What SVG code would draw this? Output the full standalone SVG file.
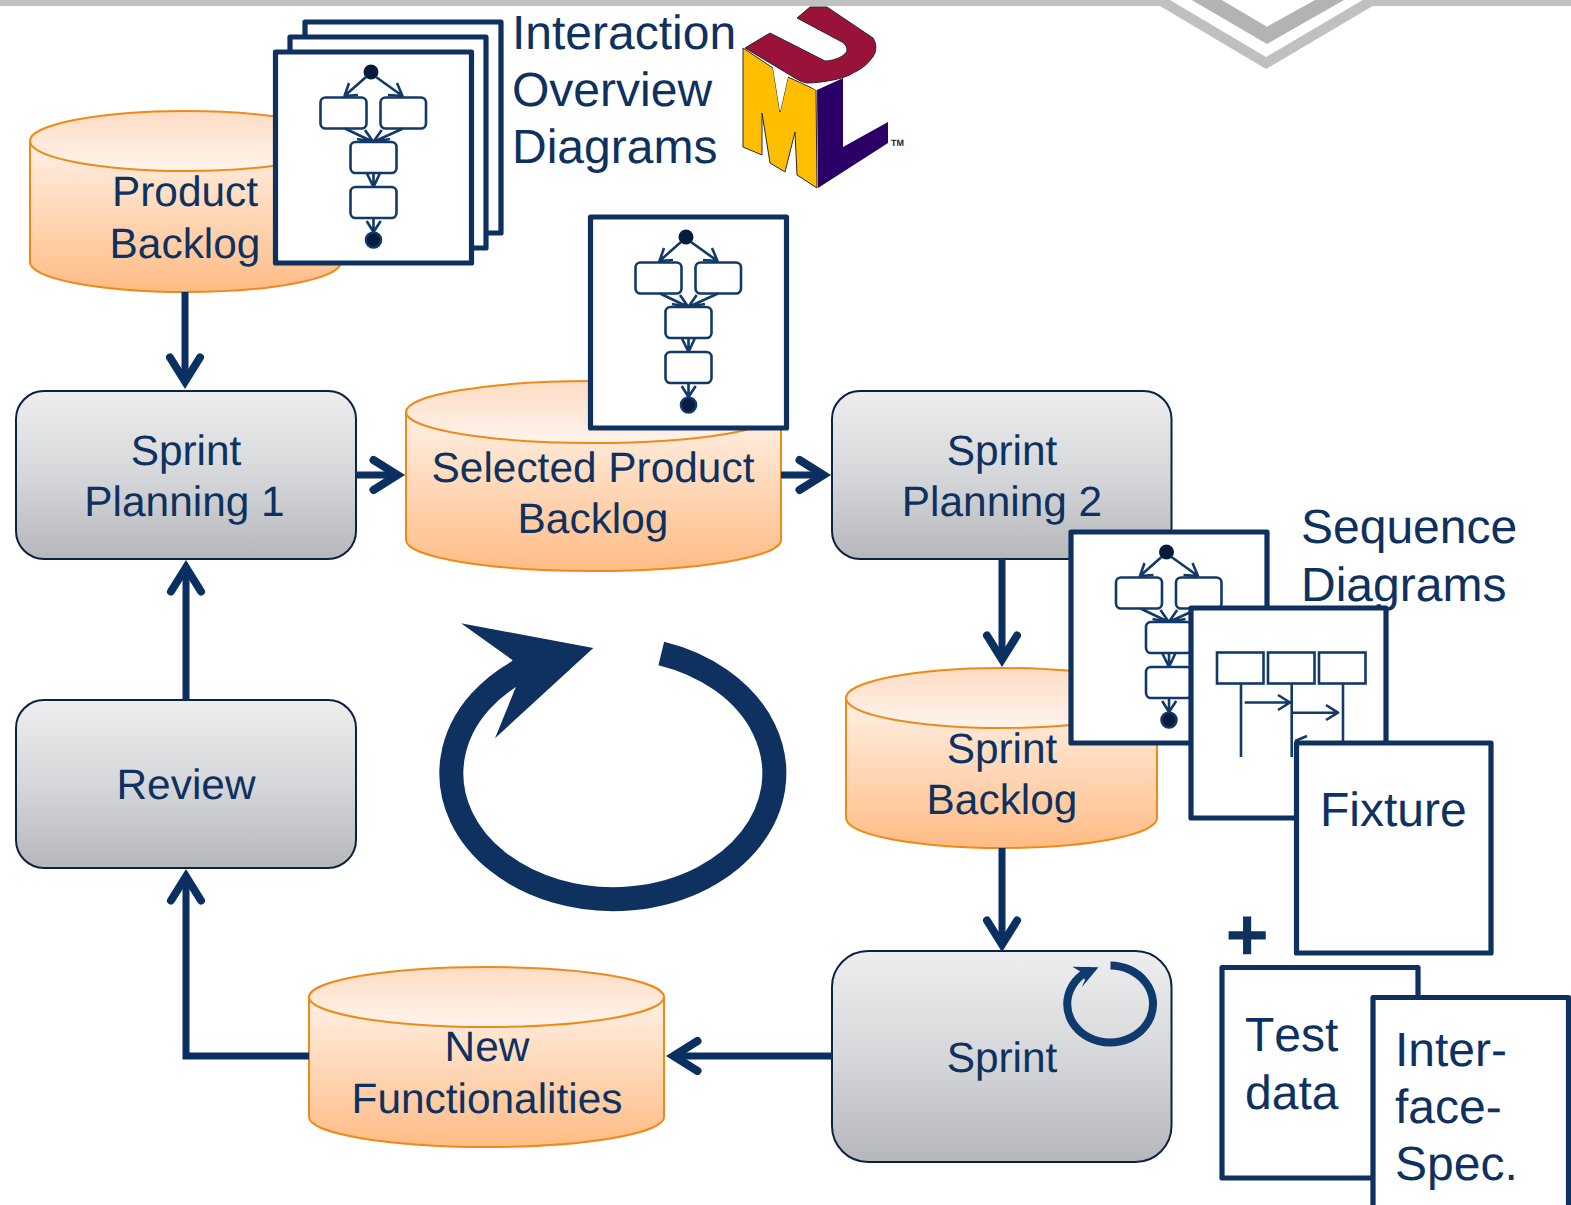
<svg xmlns="http://www.w3.org/2000/svg" width="1571" height="1205" viewBox="0 0 1571 1205">
<style>
text{font-family:"Liberation Sans",Arial,sans-serif;fill:#0e3160;text-rendering:geometricPrecision}
.t42{font-size:42.4px;text-anchor:middle}
.t47{font-size:48px}
.nokern{font-kerning:none}
.proc{stroke:#0b2342;stroke-width:2;fill:url(#gGray)}
.cyl{stroke:#ef8a17;stroke-width:2;fill:url(#gOrange)}
.cylTop{stroke:#ef8a17;stroke-width:2;fill:url(#gTop)}
.frame{fill:#fff;stroke:#0e3160;stroke-width:5.200;stroke-linejoin:round}
.conn{fill:none;stroke:#0a2f60;stroke-width:7;marker-end:url(#open)}
.thin{fill:none;stroke:#123a68;stroke-width:2.600;stroke-linejoin:round}
.box{fill:#fff;stroke:#123a68;stroke-width:2.600}
.navy{fill:#0e3160}
</style>
<defs>
<linearGradient id="gGray" x1="0" y1="0" x2="0" y2="1"><stop offset="0" stop-color="#eeeef0"/><stop offset=".5" stop-color="#d6d7da"/><stop offset="1" stop-color="#b6b7bb"/></linearGradient>
<linearGradient id="gOrange" x1="0" y1="0" x2="0" y2="1"><stop offset="0" stop-color="#fff1e6"/><stop offset="1" stop-color="#ffbc85"/></linearGradient>
<linearGradient id="gTop" x1="0" y1="0" x2="0" y2="1"><stop offset="0" stop-color="#fedcc4"/><stop offset="1" stop-color="#fff4ec"/></linearGradient>
<marker id="open" markerUnits="userSpaceOnUse" markerWidth="44" markerHeight="48" viewBox="-32 -24 44 48" refX="0" refY="0" orient="auto"><path d="M-24,-15 L0,0 L-24,15" fill="none" stroke="#0a2f60" stroke-width="8" stroke-linejoin="miter" stroke-miterlimit="10" stroke-linecap="round"/></marker>
<g id="activity">
<circle cx="371" cy="72" r="7.500" fill="#071c3c"/>
<path class="thin" d="M366,77 L344.500,96 M349,83 L344.500,96 L358,95 M376,77 L402.500,96 M397,83 L402.500,96 L388,95"/>
<rect class="box" x="320.500" y="97.500" width="46" height="31" rx="5"/>
<rect class="box" x="380.500" y="97.500" width="45.500" height="31" rx="5"/>
<path class="thin" d="M345,128.500 L373.300,142 M403,128.500 L373.300,142 M365,130 L373.300,142 L357,139 M381.700,130 L373.300,142 L390,139"/>
<rect class="box" x="350.500" y="142" width="46" height="31" rx="5"/>
<path class="thin" d="M373.500,173 L373.500,187 M366.700,173 L373.500,187 L380,173"/>
<rect class="box" x="350.500" y="187" width="46" height="31" rx="5"/>
<path class="thin" d="M373.500,218 L373.500,232 M366.700,221 L373.500,232 L380.700,221"/>
<circle cx="373.500" cy="240" r="7.600" fill="#071c3c" stroke="#123a68" stroke-width="2.400"/>
</g>
</defs>
<rect width="1571" height="1205" fill="#fff"/>

<g id="header">
<path fill="#c0c0c0" d="M0,0 H1170 L1266,57 L1362.700,0 H1571 V6 H1372.700 L1266,69 L1160,6 H0Z"/>
<path fill="#b3b3b3" d="M1191.700,0 L1267,44 L1344,0 H1315 L1267,26.700 L1221.700,0Z"/>
</g>

<g id="product-backlog">
<path class="cyl" d="M30,141 V262 A155.500,30 0 0 0 341,262 V141Z"/>
<ellipse class="cylTop" cx="185.500" cy="141" rx="155.500" ry="30"/>
<text class="t42" x="185" y="206">Product</text>
<text class="t42" x="185" y="258">Backlog</text>
</g>

<g id="interaction-overview">
<rect class="frame" x="305" y="22" width="196" height="211"/>
<rect class="frame" x="290" y="37" width="196" height="211"/>
<rect class="frame" x="275.500" y="52" width="196" height="211"/>
<use href="#activity"/>
<text class="t47" x="512" y="49">Interaction</text>
<text class="t47" x="512" y="106">Overview</text>
<text class="t47" x="512" y="163">Diagrams</text>
</g>

<g id="uml-logo" stroke="#2a2a2a" stroke-width="1" stroke-linejoin="round">
<path fill="#ffbf00" d="M743,48 L773,68 L780,112 L788,77 L816,90 L817,188 L797,175 L795,132 L785,172 L770,163 L762,113 L762,155 L743,147Z"/>
<path fill="#fff" stroke="none" d="M773,68 L780,112 L788,77Z M806,84 L816,90 L826,84Z"/>
<path fill="#2a0066" stroke="none" d="M817,90 L843,78 L843,147 L888,122 L888,143 L818,188Z"/>
<path fill="#99123a" d="M745,48 L770,33 L825,61 C835,61 847,55 847,50 C847,45 842,42 842,42 L797,18 L810,7 L827,7 L873,38 C877,44 877,52 872,58 C865,68 853,73 853,73 C845,79 820,83 807,83 C800,82 795,78 790,75Z"/>
<text x="891" y="146" font-size="9" font-weight="700" stroke="none" style="fill:#222">TM</text>
</g>

<g id="sprint-planning-1">
<rect class="proc" x="16" y="391" width="340" height="168" rx="28"/>
<text class="t42" x="186" y="465">Sprint</text>
<text class="t42" x="184.500" y="516">Planning 1</text>
</g>

<g id="selected-backlog">
<path class="cyl" d="M406,412 V540 A187.500,31 0 0 0 781,540 V412Z"/>
<ellipse class="cylTop" cx="593.500" cy="412" rx="187.500" ry="31"/>
<text class="t42" x="593" y="482">Selected Product</text>
<text class="t42" x="593" y="533">Backlog</text>
</g>

<g id="activity-2">
<rect class="frame" x="590.500" y="217" width="196" height="211"/>
<use href="#activity" transform="translate(315,165)"/>
</g>

<g id="sprint-planning-2">
<rect class="proc" x="832" y="391" width="339.500" height="168" rx="28"/>
<text class="t42" x="1002" y="465">Sprint</text>
<text class="t42" x="1002" y="516">Planning 2</text>
</g>

<g id="sprint-backlog">
<path class="cyl" d="M846,698 V818 A155.500,30 0 0 0 1157,818 V698Z"/>
<ellipse class="cylTop" cx="1001.500" cy="698" rx="155.500" ry="30"/>
<text class="t42" x="1002" y="763">Sprint</text>
<text class="t42" x="1002" y="814">Backlog</text>
</g>

<g id="activity-3">
<rect class="frame" x="1071" y="532" width="196" height="211"/>
<use href="#activity" transform="translate(795.500,480)"/>
</g>

<g id="sequence-label">
<text class="t47" x="1301" y="543">Sequence</text>
<text class="t47" x="1301" y="601">Diagrams</text>
</g>

<g id="sequence-diagram">
<rect class="frame" x="1191" y="608" width="195" height="210"/>
<rect class="box" x="1217" y="652.500" width="46.500" height="31"/>
<rect class="box" x="1268" y="652.500" width="46.500" height="31"/>
<rect class="box" x="1319" y="652.500" width="46.500" height="31"/>
<path class="thin" d="M1241,683.500 V757 M1291.700,683.500 V757 M1343,683.500 V745 M1244.700,702.500 H1290 M1278,695 L1290,702.500 L1278,710 M1292,712.700 H1338 M1326,705 L1338,712.700 L1326,720 M1295,741 L1307,736"/>
</g>

<g id="fixture">
<rect class="frame" x="1296.500" y="743" width="194.500" height="210"/>
<text class="t47" x="1320" y="826">Fixture</text>
</g>

<g id="plus"><text x="1225.500" y="960" font-size="74" font-weight="700">+</text></g>

<g id="test-data">
<rect class="frame" x="1222" y="967.500" width="196" height="210.500"/>
<text class="t47 nokern" x="1245" y="1051">Test</text>
<text class="t47" x="1245" y="1109">data</text>
</g>

<g id="interface-spec">
<rect class="frame" x="1373" y="997.500" width="195.500" height="220"/>
<text class="t47" x="1395" y="1066">Inter-</text>
<text class="t47" x="1395" y="1123">face-</text>
<text class="t47" x="1395" y="1180">Spec.</text>
</g>

<g id="review">
<rect class="proc" x="16" y="700" width="340" height="168" rx="28"/>
<text class="t42" x="186" y="799">Review</text>
</g>

<g id="new-functionalities">
<path class="cyl" d="M309,997 V1117 A177.500,30 0 0 0 664,1117 V997Z"/>
<ellipse class="cylTop" cx="486.500" cy="997" rx="177.500" ry="30"/>
<text class="t42" x="487" y="1061">New</text>
<text class="t42" x="487" y="1113">Functionalities</text>
</g>

<g id="sprint">
<rect class="proc" x="832" y="951" width="339.500" height="211" rx="36"/>
<text class="t42" x="1002" y="1072">Sprint</text>
<path d="M1110.500,965.500 A42.900,38.500 0 1 1 1090,970" fill="none" stroke="#0f3a6e" stroke-width="8"/>
<path fill="#0f3a6e" d="M1098.500,967.300 L1072.300,966.700 L1080.800,971.700 L1085,980 L1081.800,987.300Z"/>
</g>

<g id="cycle">
<path d="M661.300,653.500 A161.500,125.700 0 1 1 530,665.500" fill="none" stroke="#0e3160" stroke-width="24"/>
<path class="navy" d="M593.300,648 L461,623.300 L512.300,660 L516,686.700 L495,738.300Z"/>
</g>

<g id="connectors">
<path class="conn" d="M185,292 V381.500"/>
<path class="conn" d="M356,475 H397.500"/>
<path class="conn" d="M781,475 H823.500"/>
<path class="conn" d="M1002,559 V659.500"/>
<path class="conn" d="M1002,848 V944.500"/>
<path class="conn" d="M832,1056 H673.500"/>
<path class="conn" d="M309,1056 H186 V876.500"/>
<path class="conn" d="M186,700 V567.500"/>
</g>
</svg>
